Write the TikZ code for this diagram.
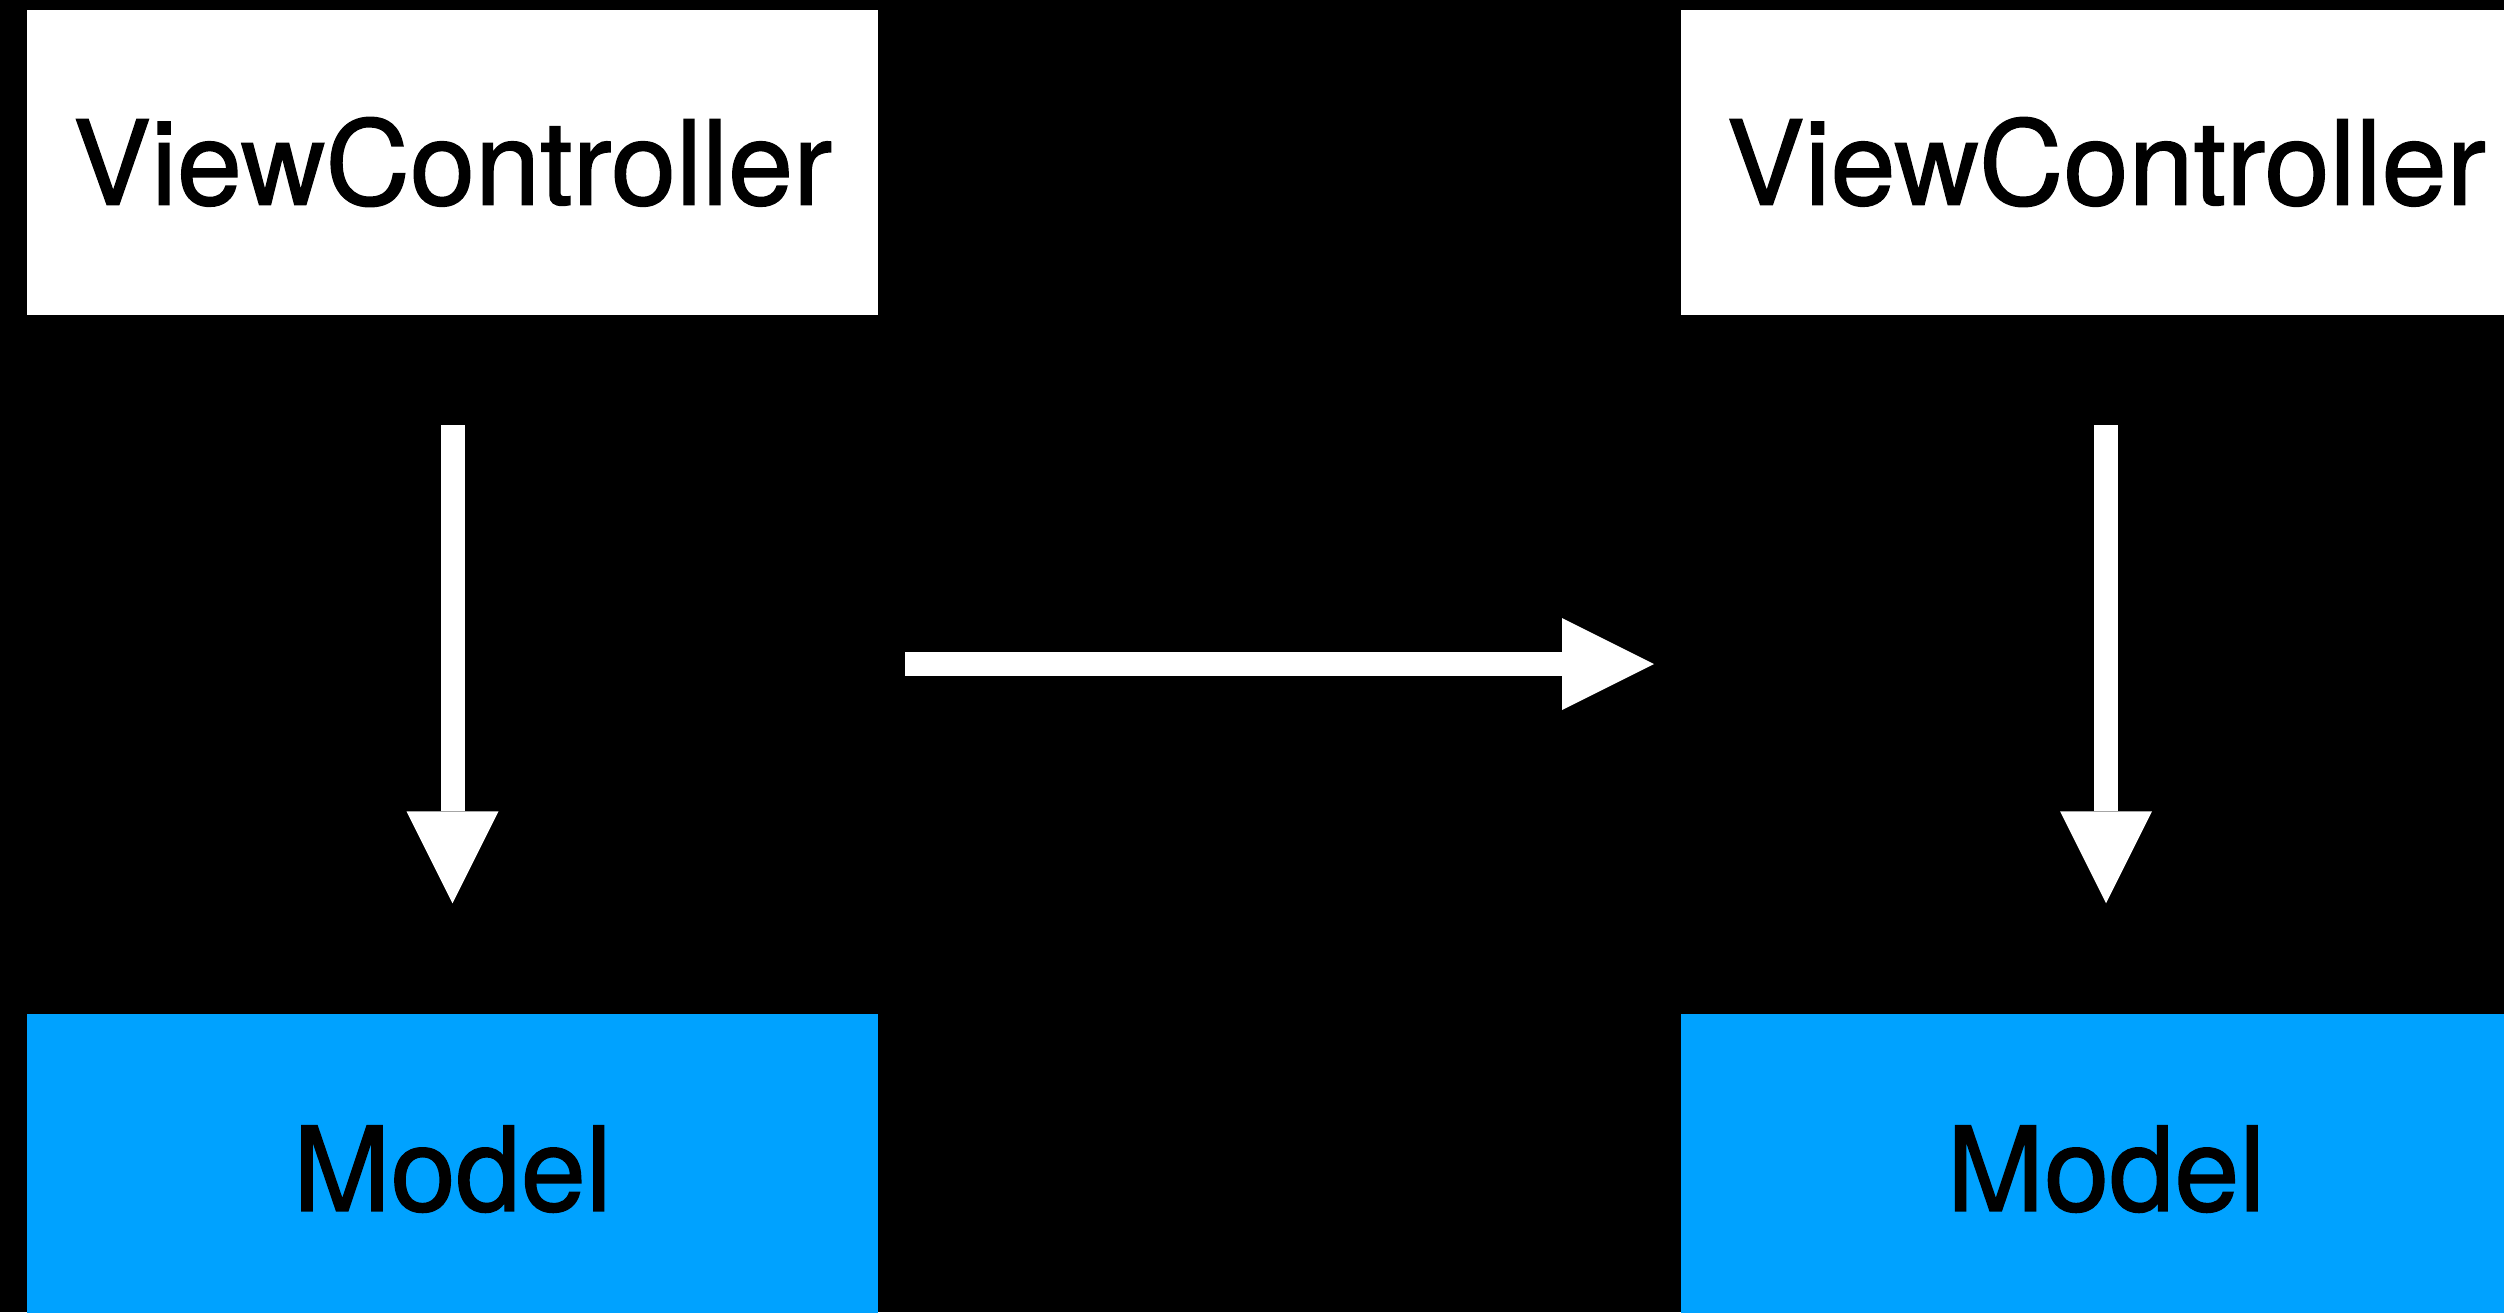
\documentclass[tikz,border=0pt]{standalone}
\usepackage{fontspec}
\setmainfont{TeX Gyre Heros}[FakeBold=1.2]
\usetikzlibrary{arrows.meta}
\definecolor{modelblue}{RGB}{0, 162, 255}

\begin{document}
\begin{tikzpicture}[
  box/.style={minimum width=8.5cm, minimum height=3.05cm, inner sep=0pt, font=\fontsize{33.3}{39}\selectfont},
  arrow/.style={-{Triangle[length=9.2mm, width=9.2mm, line width=0pt]}, line width=2.4mm, white},
]
\useasboundingbox (0,0) rectangle (25.04,-13.12);
\fill[black] (0,0) rectangle (25.04,-13.12);

% Before
\node[box, fill=white] (vcL) at (4.525,-1.62) {ViewController};
\node[box, fill=modelblue, minimum height=3.1cm] (modL) at (4.525,-11.69) {Model};

% After
\node[box, fill=white] (vcR) at (21.06,-1.62) {ViewController};
\node[box, fill=modelblue, minimum height=3.1cm] (modR) at (21.06,-11.69) {Model};

% Arrows
\coordinate (fromL) at (9.05,-6.64);
\coordinate (toR) at (16.54,-6.64);
\draw[arrow, shorten <=1.1cm, shorten >=1.1cm] (vcL) -- (modL);
\draw[arrow, shorten <=1.1cm, shorten >=1.1cm] (vcR) -- (modR);
\draw[arrow] (fromL) -- (toR);
\end{tikzpicture}
\end{document}
